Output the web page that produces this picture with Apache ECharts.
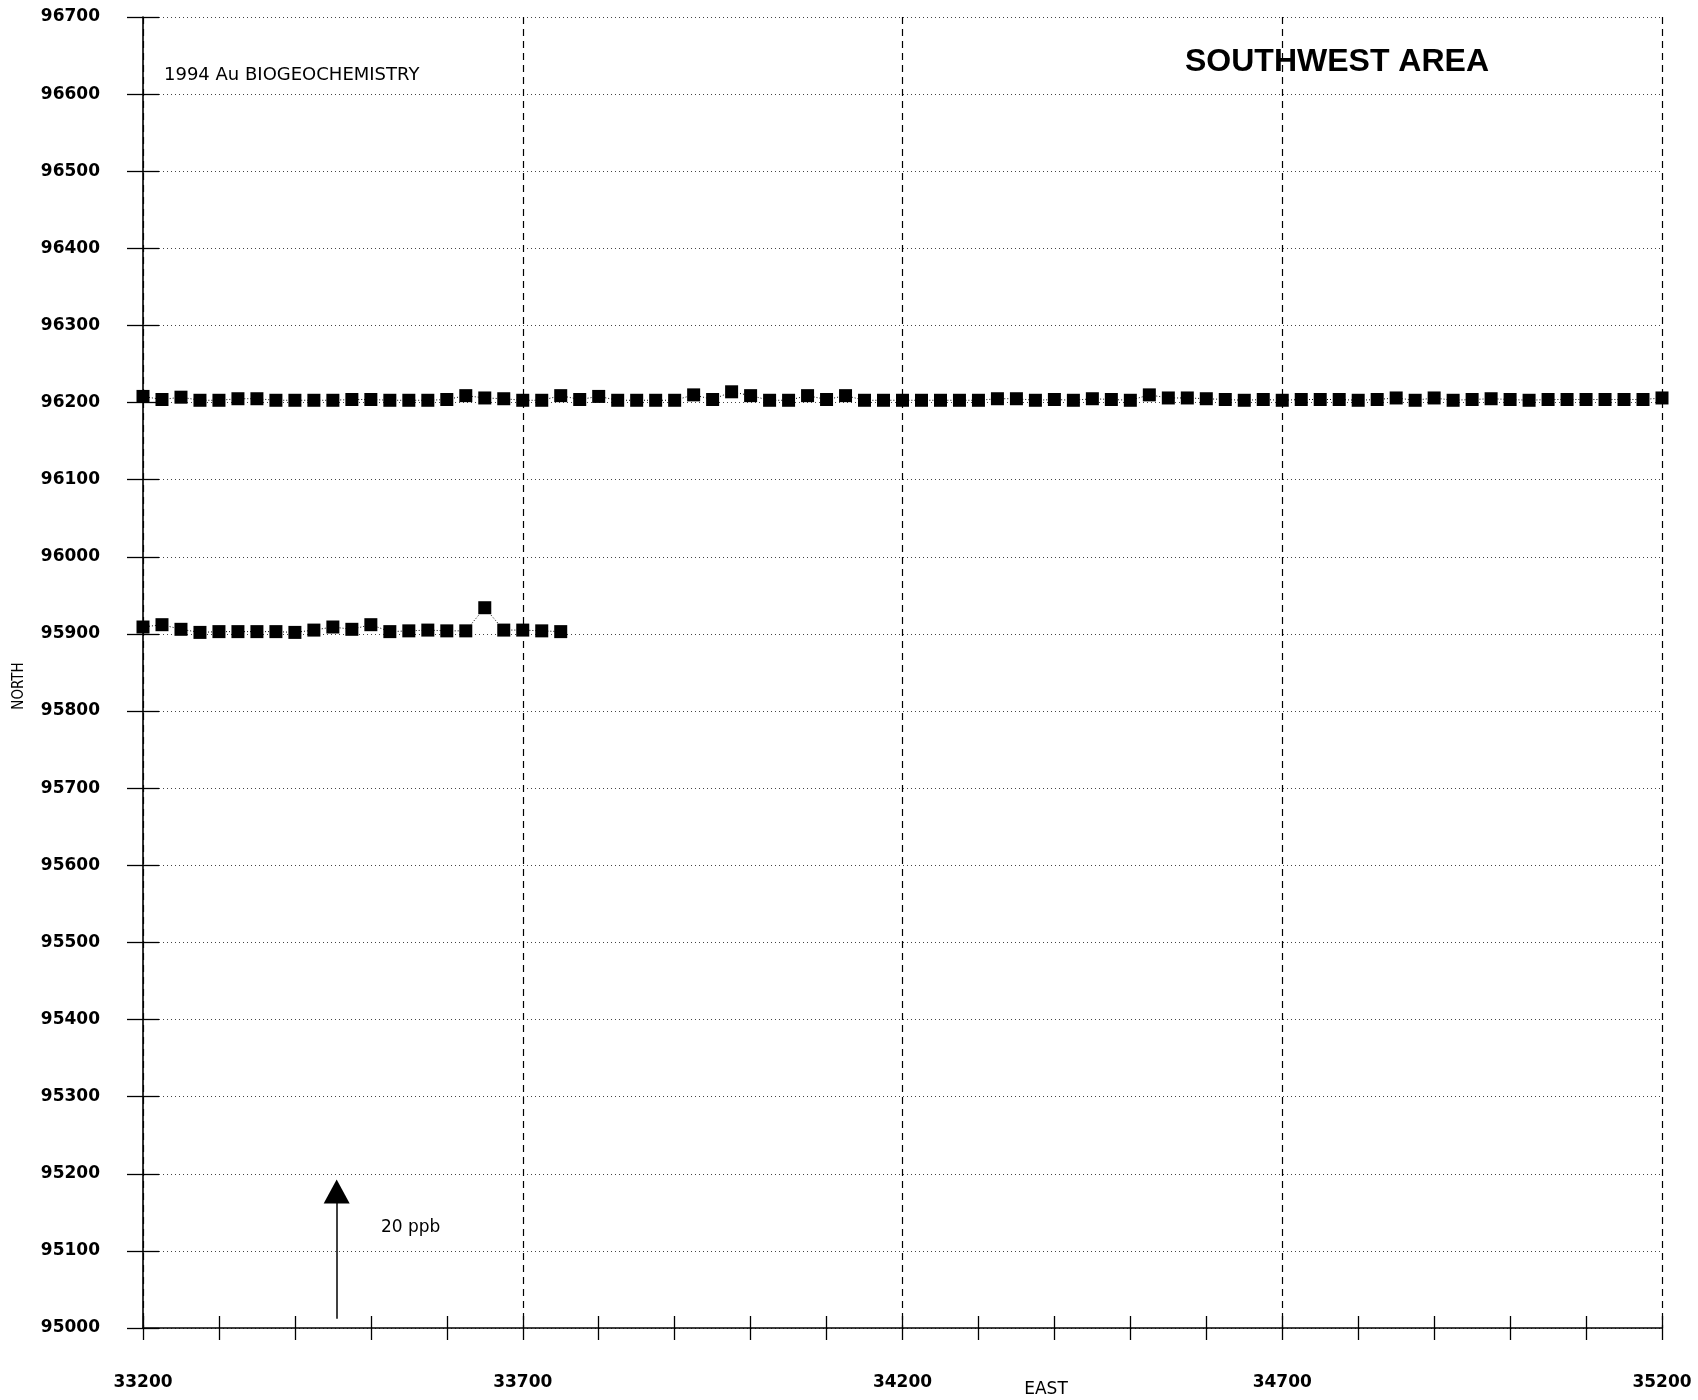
<!DOCTYPE html>
<html>
<head>
<meta charset="utf-8">
<script src="https://cdn.jsdelivr.net/npm/echarts@6/dist/echarts.min.js"></script>
<style>
html,body{margin:0;padding:0;background:#ffffff;}
#chart{width:1698px;height:1400px;}
</style>
</head>
<body>
<div id="chart"></div>
<script>
// ---- data ----
const upperEast = [
  33200,33225,33250,33275,33300,33325,33350,33375,33400,33425,
  33450,33475,33500,33525,33550,33575,33600,33625,33650,33675,
  33700,33725,33750,33775,33800,33825,33850,33875,33900,33925,
  33950,33975,34000,34025,34050,34075,34100,34125,34150,34175,
  34200,34225,34250,34275,34300,34325,34350,34375,34400,34425,
  34450,34475,34500,34525,34550,34575,34600,34625,34650,34675,
  34700,34725,34750,34775,34800,34825,34850,34875,34900,34925,
  34950,34975,35000,35025,35050,35075,35100,35125,35150,35175,
  35200
];
const upperNorth = [
  96208,96204,96207,96203,96203,96205,96205,96203,96203,96203,
  96203,96204,96204,96203,96203,96203,96204,96209,96206,96205,
  96203,96203,96209,96204,96208,96203,96203,96203,96203,96210,
  96204,96214,96209,96203,96203,96209,96204,96209,96203,96203,
  96203,96203,96203,96203,96203,96205,96205,96203,96204,96203,
  96205,96204,96203,96210,96206,96206,96205,96204,96203,96204,
  96203,96204,96204,96204,96203,96204,96206,96203,96206,96203,
  96204,96205,96204,96203,96204,96204,96204,96204,96204,96204,
  96206
];
const lowerEast = [
  33200,33225,33250,33275,33300,33325,33350,33375,33400,33425,
  33450,33475,33500,33525,33550,33575,33600,33625,33650,33675,
  33700,33725,33750
];
const lowerNorth = [
  95909,95912,95906,95902,95903,95903,95903,95903,95902,95905,
  95909,95906,95912,95903,95904,95905,95904,95904,95934,95905,
  95905,95904,95903
];
const eastMin = 33200, eastMax = 35200;
const northMin = 95000, northMax = 96700;
const eastLabelStep = 500, eastTickStep = 100, northStep = 100;
// 20 ppb scale arrow (data coordinates)
const arrowEast = 33455;
const arrowNorth = [95012, 95177];

const tickFont = 'DejaVu Sans';
const upperData = upperEast.map((e, i) => [e, upperNorth[i]]);
const lowerData = lowerEast.map((e, i) => [e, lowerNorth[i]]);

const chart = echarts.init(document.getElementById('chart'), null, {renderer: 'canvas'});

const baseX = {
  type: 'value', min: eastMin, max: eastMax, position: 'bottom', gridIndex: 0,
  axisLine: {show: false}, axisTick: {show: false}, axisLabel: {show: false},
  splitLine: {show: false}, minorTick: {show: false}
};
const baseY = {
  type: 'value', min: northMin, max: northMax, interval: northStep, position: 'left', gridIndex: 0,
  axisLine: {show: false}, axisTick: {show: false}, axisLabel: {show: false},
  splitLine: {show: false}
};

const option = {
  animation: false,
  backgroundColor: '#ffffff',
  grid: {left: 143, right: 36, top: 17, bottom: 72, containLabel: false},
  xAxis: [
    Object.assign({}, baseX, {
      interval: eastTickStep,
      axisLine: {show: true, onZero: false, lineStyle: {color: '#000', width: 1.6}},
      axisTick: {show: true, inside: false, length: 12, lineStyle: {color: '#000', width: 1.3}}
    }),
    Object.assign({}, baseX, {
      interval: eastTickStep,
      axisTick: {show: true, inside: true, length: 12, lineStyle: {color: '#000', width: 1.3}}
    }),
    Object.assign({}, baseX, {
      interval: eastLabelStep,
      axisLabel: {
        show: true, margin: 46, color: '#000',
        fontFamily: tickFont, fontWeight: 'bold', fontSize: 17,
        formatter: v => String(v)
      },
      splitLine: {show: true, lineStyle: {color: '#000', width: 1.2, type: [7, 5]}}
    })
  ],
  yAxis: [
    Object.assign({}, baseY, {
      axisLine: {show: true, onZero: false, lineStyle: {color: '#000', width: 1.6}},
      axisTick: {show: true, inside: false, length: 16, lineStyle: {color: '#000', width: 1.3}},
      axisLabel: {
        show: true, margin: 43, color: '#000',
        fontFamily: tickFont, fontWeight: 'bold', fontSize: 17,
        formatter: v => String(v)
      },
      splitLine: {show: true, lineStyle: {color: '#444', width: 1, type: [1, 3]}}
    }),
    Object.assign({}, baseY, {
      axisTick: {show: true, inside: true, length: 16, lineStyle: {color: '#000', width: 1.3}}
    })
  ],
  series: [
    {
      name: 'L96200', type: 'line', xAxisIndex: 0, yAxisIndex: 0,
      data: upperData, clip: false,
      symbol: 'rect', symbolSize: 13,
      itemStyle: {color: '#000'},
      lineStyle: {color: '#000', width: 1, type: [1, 2]}
    },
    {
      name: 'L95900', type: 'line', xAxisIndex: 0, yAxisIndex: 0,
      data: lowerData, clip: false,
      symbol: 'rect', symbolSize: 13,
      itemStyle: {color: '#000'},
      lineStyle: {color: '#000', width: 1, type: [1, 2]},
      markLine: {
        silent: true, animation: false,
        symbol: ['none', 'triangle'], symbolSize: [26, 24],
        label: {show: false},
        lineStyle: {color: '#000', width: 1.5, type: 'solid'},
        data: [[{coord: [arrowEast, arrowNorth[0]]}, {coord: [arrowEast, arrowNorth[1]]}]]
      }
    }
  ],
  graphic: [
    {type: 'text', x: 1337, y: 62, silent: true,
     style: {text: 'SOUTHWEST AREA', font: 'bold 32px "Liberation Sans", Arial, sans-serif', fill: '#000',
             align: 'center', verticalAlign: 'middle', textAlign: 'center', textVerticalAlign: 'middle'}},
    {type: 'text', x: 164, y: 75, silent: true,
     style: {text: '1994 Au BIOGEOCHEMISTRY', font: '18px "DejaVu Sans", sans-serif', fill: '#000',
             align: 'left', verticalAlign: 'middle', textAlign: 'left', textVerticalAlign: 'middle'}},
    {type: 'text', x: 1046, y: 1390, silent: true,
     style: {text: 'EAST', font: '17px "DejaVu Sans", sans-serif', fill: '#000',
             align: 'center', verticalAlign: 'middle', textAlign: 'center', textVerticalAlign: 'middle'}},
    {type: 'text', x: 19, y: 686, rotation: Math.PI / 2, silent: true,
     style: {text: 'NORTH', font: '15px "DejaVu Sans Condensed", "DejaVu Sans", sans-serif', fill: '#000',
             align: 'center', verticalAlign: 'middle', textAlign: 'center', textVerticalAlign: 'middle'}},
    {type: 'text', x: 381, y: 1228, silent: true,
     style: {text: '20 ppb', font: '17px "DejaVu Sans", sans-serif', fill: '#000',
             align: 'left', verticalAlign: 'middle', textAlign: 'left', textVerticalAlign: 'middle'}}
  ]
};
chart.setOption(option);
</script>
</body>
</html>
